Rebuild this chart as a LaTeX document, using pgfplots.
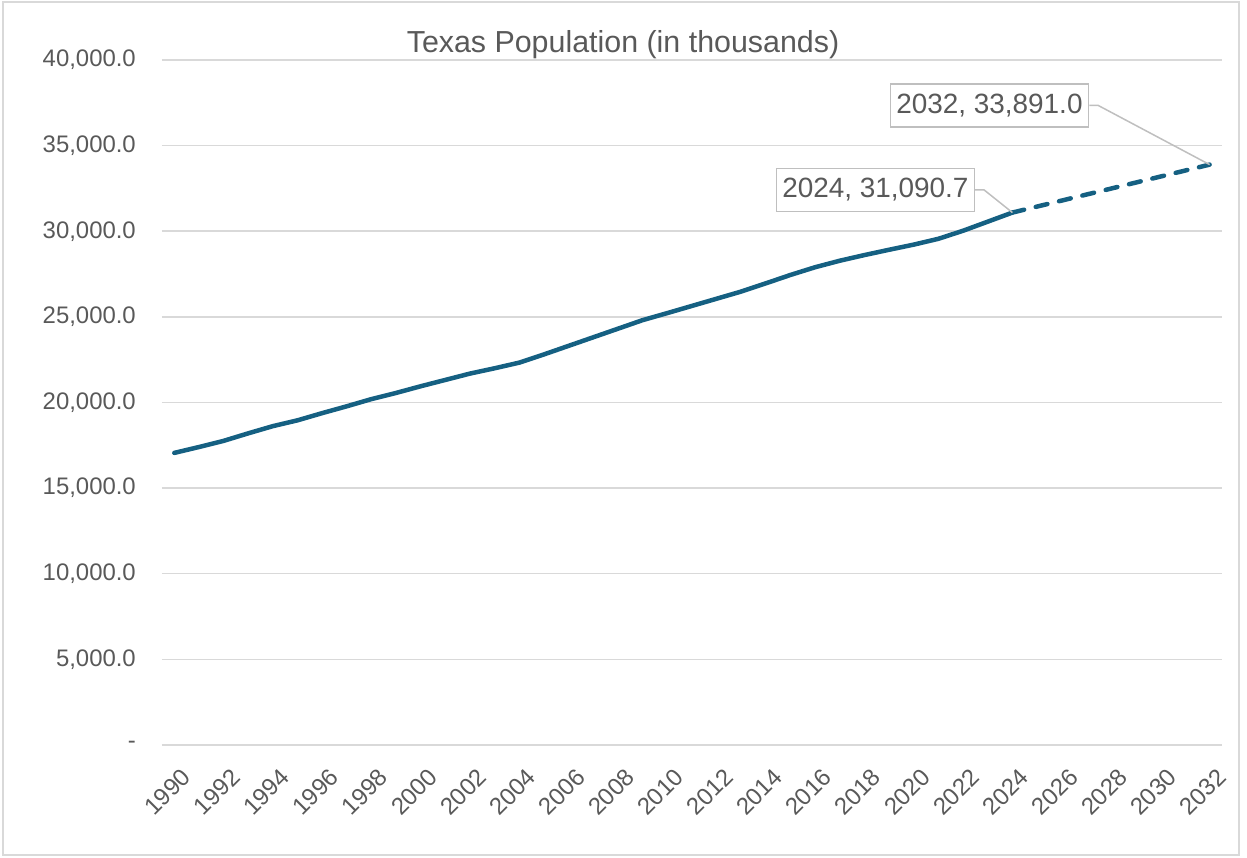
\documentclass[border=0pt]{standalone}
\usepackage{pgfplots}
\pgfplotsset{compat=1.18}
\usepackage{fontspec}
\setmainfont{Liberation Sans}
\definecolor{txt}{HTML}{595959}
\definecolor{grd}{HTML}{D9D9D9}
\definecolor{ln}{HTML}{156082}
\definecolor{bx}{HTML}{BFBFBF}
\begin{document}
\begin{tikzpicture}
\useasboundingbox (-162bp,-113bp) rectangle (1085bp,745bp);
\draw[grd, line width=1.5bp] (-159bp,-110bp) rectangle (1077bp,743bp);
\begin{axis}[
  at={(0bp,0bp)}, anchor=south west,
  scale only axis, width=1060bp, height=685bp,
  xmin=1989.5, xmax=2032.5, ymin=0, ymax=40000,
  scaled y ticks=false,
  axis line style={draw=none}, major tick length=0pt,
  ymajorgrids, major grid style={grd, line width=1.5bp},
  ytick={0,5000,10000,15000,20000,25000,30000,35000,40000},
  yticklabels={{-\hspace{15bp}},{5,000.0},{10,000.0},{15,000.0},{20,000.0},{25,000.0},{30,000.0},{35,000.0},{40,000.0}},
  xtick={1990,1992,...,2032},
  xticklabels={1990,1992,1994,1996,1998,2000,2002,2004,2006,2008,2010,2012,2014,2016,2018,2020,2022,2024,2026,2028,2030,2032},
  yticklabel style={font=\fontsize{24}{28}\selectfont, text=txt, anchor=east, inner sep=0pt, xshift=-26bp},
  xticklabel style={font=\fontsize{24}{28}\selectfont, text=txt, xshift=6bp, yshift=-22bp, rotate=45, anchor=north east, inner sep=0pt},
  clip=false,
]
\addplot[ln, line width=4.5bp, line join=round, line cap=round] coordinates {
(1990,17057) (1991,17400) (1992,17760) (1993,18200) (1994,18620) (1995,18960)
(1996,19380) (1997,19780) (1998,20200) (1999,20560) (2000,20950) (2001,21320)
(2002,21690) (2003,22000) (2004,22330) (2005,22810) (2006,23310) (2007,23810)
(2008,24310) (2009,24810) (2010,25220) (2011,25640) (2012,26060) (2013,26480)
(2014,26960) (2015,27450) (2016,27900) (2017,28280) (2018,28610) (2019,28920)
(2020,29220) (2021,29560) (2022,30030) (2023,30560) (2024,31090.7)
};
\addplot[ln, line width=4.5bp, line cap=round, dash pattern=on 12bp off 12bp] coordinates {
(2024,31090.7) (2025,31441) (2026,31791) (2027,32141) (2028,32491) (2029,32841)
(2030,33191) (2031,33541) (2032,33891)
};
\node[draw=bx, line width=1.5bp, fill=white, text=txt, font=\fontsize{28}{32}\selectfont, inner xsep=6bp, minimum height=43bp] (b1) at (axis cs:2023.07,37343) {2032, 33,891.0};
\draw[bx, line width=1.5bp] (b1.east) -- ++(9bp,0bp) -- (axis cs:2032,33891);
\node[draw=bx, line width=1.5bp, fill=white, text=txt, font=\fontsize{28}{32}\selectfont, inner xsep=6bp, minimum height=43bp] (b2) at (axis cs:2018.44,32409) {2024, 31,090.7};
\draw[bx, line width=1.5bp] (b2.east) -- ++(9bp,0bp) -- (axis cs:2024,31090.7);
\end{axis}
\node[text=txt, font=\fontsize{30.5}{36}\selectfont] at (461bp,700bp) {Texas Population (in thousands)};
\end{tikzpicture}
\end{document}
